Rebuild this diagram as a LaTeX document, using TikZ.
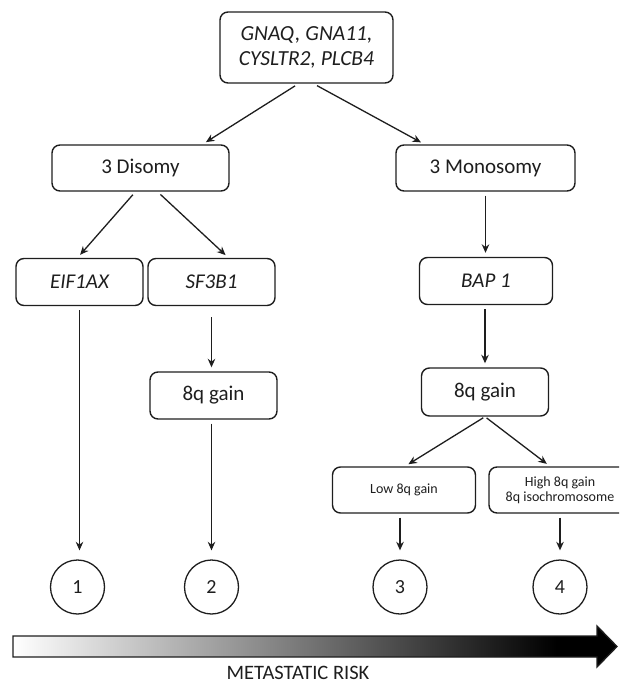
\documentclass[tikz,border=0pt]{standalone}
\usepackage{fontspec}
\setmainfont{Carlito}
\usepackage{xcolor}
\usetikzlibrary{positioning, calc, arrows.meta}

\definecolor{ink}{HTML}{1E1E1E}
\pgfdeclarehorizontalshading{riskfade}{100bp}{color(0bp)=(white); color(25bp)=(white); color(70bp)=(black); color(100bp)=(black)}

\tikzset{
    gbox/.style={draw=ink, text=ink, rounded corners=8pt, line width=1.4pt, inner sep=0pt,
        minimum width=127pt, minimum height=47pt, font=\fontsize{21}{25}\selectfont},
    smallbox/.style={gbox, minimum width=143pt, minimum height=46pt, align=center,
        font=\fontsize{14}{15}\selectfont},
    riskdot/.style={draw=ink, text=ink, circle, line width=1.3pt, minimum size=54pt, inner sep=0pt,
        font=\fontsize{20}{24}\selectfont},
    link/.style={->, draw=ink, line width=1.3pt, shorten <=4pt, shorten >=4pt},
}

\begin{document}
\begin{tikzpicture}[x=1pt, y=-1pt, >={Stealth[length=8.5pt, width=7.5pt]}]

        \path[use as bounding box, clip] (0,0) rectangle (619,684);

        % ==========================================
        % TOP: driver mutations
        % ==========================================
        \node[gbox, minimum width=173pt, minimum height=71pt, align=center,
              font=\fontsize{21.5}{25}\selectfont\itshape] (top) at (306.5,47.5)
              {GNAQ, GNA11,\\CYSLTR2, PLCB4};

        % ==========================================
        % LEFT BRANCH: chromosome 3 disomy
        % ==========================================
        \node[gbox, minimum width=177pt, minimum height=46pt] (dis) at (140.5,168) {3 Disomy};
        \node[gbox, font=\fontsize{21}{25}\selectfont\itshape] (eif) at (79.5,282) {EIF1AX};
        \node[gbox, font=\fontsize{21}{25}\selectfont\itshape] (sf3) at (211.5,282) {SF3B1};
        \node[gbox] (gainL) at (213.5,395.5) {8q gain};

        % ==========================================
        % RIGHT BRANCH: chromosome 3 monosomy
        % ==========================================
        \node[gbox, minimum width=179pt, minimum height=46pt] (mon) at (485.5,168) {3 Monosomy};
        \node[gbox, minimum width=133pt, font=\fontsize{21}{25}\selectfont\itshape] (bap) at (486,281) {BAP 1};
        \node[gbox, minimum height=48pt] (gainR) at (485,392) {8q gain};
        \node[smallbox] (low) at (404,490) {Low 8q gain};
        \node[smallbox, minimum width=142pt] (high) at (560,490) {High 8q gain\\8q isochromosome};

        % ==========================================
        % BOTTOM: risk classes
        % ==========================================
        \node[riskdot] (c1) at (77.5,587) {1};
        \node[riskdot] (c2) at (211.5,587) {2};
        \node[riskdot] (c3) at (400,587) {3};
        \node[riskdot] (c4) at (560,587) {4};

        % Connectors
        \draw[link] ([xshift=-8pt]top.south) -- ([xshift=62pt]dis.north);
        \draw[link] ([xshift=7pt]top.south) -- ([xshift=-61pt]mon.north);
        \draw[link] ([xshift=-5pt]dis.south) -- ([xshift=-2pt]eif.north);
        \draw[link] ([xshift=17pt]dis.south) -- ([xshift=17pt]sf3.north);
        \draw[link] (mon.south) -- (mon.south |- bap.north);
        \draw[link, shorten >=9pt] (eif.south) -- (eif.south |- c1.north);
        \draw[link, shorten <=11pt] (sf3.south) -- (sf3.south |- gainL.north);
        \draw[link, shorten >=9pt] ([xshift=-2pt]gainL.south) -- (c2.north);
        \draw[link] ([xshift=-1pt]bap.south) -- ([xshift=-1pt]bap.south |- gainR.north);
        \draw[link, shorten <=2pt] (gainR.south) -- ([xshift=1pt]low.north);
        \draw[link, shorten <=2pt] (gainR.south) -- ([xshift=-10pt]high.north);
        \draw[link, shorten >=9pt] ([xshift=-4pt]low.south) -- (c3.north);
        \draw[link, shorten >=9pt] (high.south) -- (c4.north);

        % ==========================================
        % RISK ARROW
        % ==========================================
        \shade[shading=riskfade] (13,636) -- (597,636) -- (597,626) -- (617,646.5)
              -- (597,667) -- (597,657) -- (13,657) -- cycle;
        \draw[ink, line width=1.3pt, line join=miter] (13,636) -- (597,636) -- (597,626) -- (617,646.5)
              -- (597,667) -- (597,657) -- (13,657) -- cycle;
        \node[text=ink, inner sep=0pt, font=\fontsize{20.5}{24}\selectfont] (risklbl) at (298,672.5) {METASTATIC RISK};

\end{tikzpicture}
\end{document}
